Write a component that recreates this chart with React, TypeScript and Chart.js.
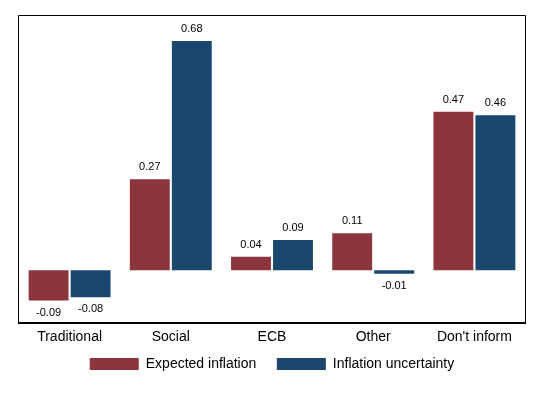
import React, { useEffect, useRef } from "react";
import { Chart, registerables } from "chart.js";

Chart.register(...registerables);

const categories = ["Traditional", "Social", "ECB", "Other", "Don't inform"];
const expectedInflation = [-0.09, 0.27, 0.04, 0.11, 0.47];
const inflationUncertainty = [-0.08, 0.68, 0.09, -0.01, 0.46];
const seriesNames = ["Expected inflation", "Inflation uncertainty"];
const RED = "#8C353D";
const BLUE = "#1B476F";
const FONT = "'Liberation Sans', Arial, sans-serif";

const labelPlugin = {
  id: "valueLabels",
  afterDatasetsDraw(chart: any) {
    const ctx = chart.ctx;
    ctx.save();
    ctx.font = `11px ${FONT}`;
    ctx.fillStyle = "#000";
    ctx.textAlign = "center";
    ctx.textBaseline = "middle";
    chart.data.datasets.forEach((ds: any, i: number) => {
      const meta = chart.getDatasetMeta(i);
      meta.data.forEach((el: any, j: number) => {
        const v = ds.data[j];
        const y = v >= 0 ? el.y - 12 : el.y + 12;
        ctx.fillText(v.toFixed(2), el.x, y);
      });
    });
    ctx.restore();
  },
};

const framePlugin = {
  id: "frame",
  afterDraw(chart: any) {
    const { ctx, chartArea } = chart;
    const { left, right, top, bottom } = chartArea;
    ctx.save();
    ctx.strokeStyle = "#000";
    ctx.lineWidth = 1;
    ctx.beginPath();
    ctx.moveTo(Math.round(left) - 0.5, Math.round(top) + 0.5);
    ctx.lineTo(Math.round(right) + 0.5, Math.round(top) + 0.5);
    ctx.lineTo(Math.round(right) + 0.5, Math.round(bottom));
    ctx.moveTo(Math.round(left) - 0.5, Math.round(top) + 0.5);
    ctx.lineTo(Math.round(left) - 0.5, Math.round(bottom));
    ctx.stroke();
    ctx.lineWidth = 2;
    ctx.beginPath();
    ctx.moveTo(Math.round(left) - 1, Math.round(bottom));
    ctx.lineTo(Math.round(right) + 1, Math.round(bottom));
    ctx.stroke();
    ctx.restore();
  },
};

export default function App() {
  const ref = useRef<HTMLCanvasElement>(null);
  useEffect(() => {
    if (!ref.current) return;
    const chart = new Chart(ref.current, {
      type: "bar",
      data: {
        labels: categories,
        datasets: [
          {
            label: seriesNames[0],
            data: expectedInflation,
            backgroundColor: RED,
            categoryPercentage: 0.83,
            barPercentage: 0.95,
          },
          {
            label: seriesNames[1],
            data: inflationUncertainty,
            backgroundColor: BLUE,
            categoryPercentage: 0.83,
            barPercentage: 0.95,
          },
        ],
      },
      options: {
        animation: false,
        responsive: false,
        layout: { padding: { left: 19, right: 16, top: 15, bottom: 13 } },
        scales: {
          x: {
            grid: { display: false, drawTicks: false },
            border: { display: false },
            ticks: { color: "#000", font: { family: FONT, size: 14 }, padding: 6 },
          },
          y: {
            display: false,
            min: -0.157,
            max: 0.757,
          },
        },
        plugins: {
          legend: {
            position: "bottom",
            labels: {
              boxWidth: 49,
              boxHeight: 12,
              color: "#000",
              font: { family: FONT, size: 14 },
              padding: 5,
              generateLabels(chart: any) {
                const items = Chart.defaults.plugins.legend.labels.generateLabels(chart);
                items.forEach((it: any, i: number) => {
                  if (i < items.length - 1) it.text = it.text + "    ";
                });
                return items;
              },
            },
          },
          tooltip: { enabled: false },
        },
      },
      plugins: [labelPlugin, framePlugin],
    });
    return () => chart.destroy();
  }, []);
  return (
    <div style={{ position: "absolute", left: 0, top: 0, width: 541, height: 394, background: "#fff" }}>
      <canvas ref={ref} width={541} height={394} />
    </div>
  );
}
